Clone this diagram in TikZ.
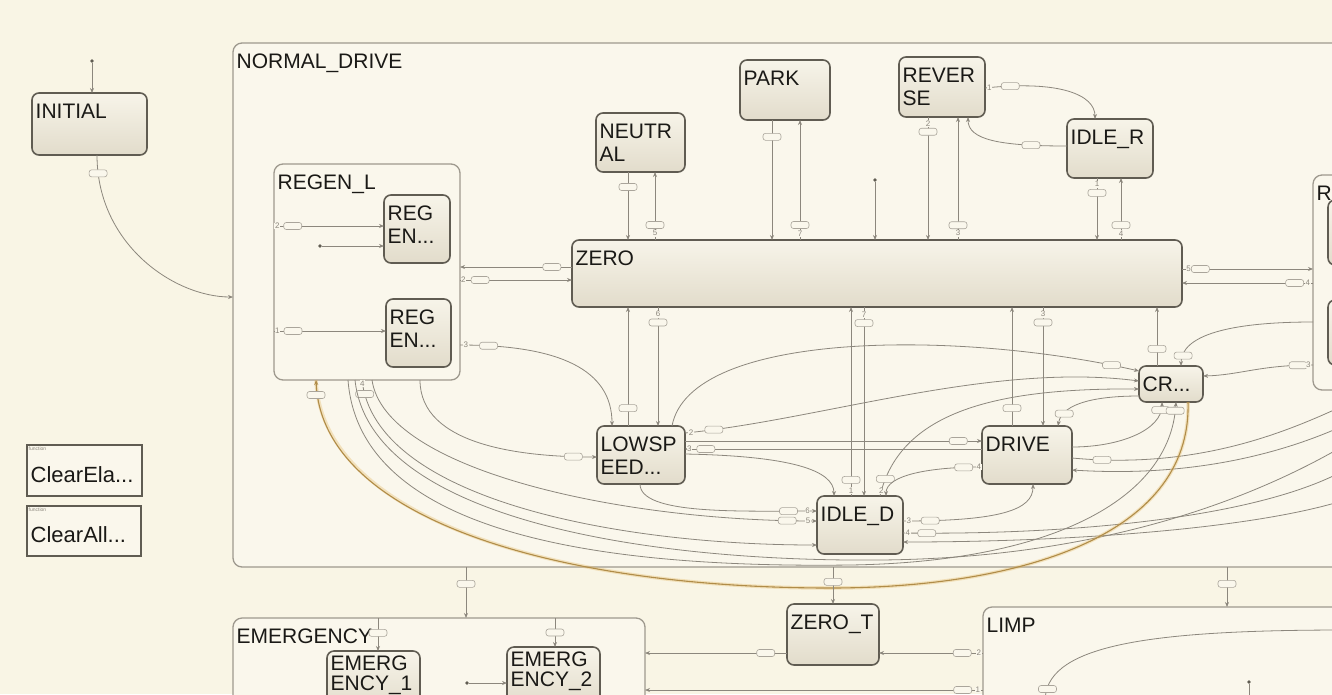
\documentclass[tikz,border=0pt]{standalone}
\usepackage{fontspec}
\setmainfont{Liberation Sans}
\usetikzlibrary{arrows.meta,calc}
\definecolor{bg}{RGB}{249,245,229}
\definecolor{cfill}{RGB}{250,247,236}
\definecolor{stopc}{RGB}{247,244,233}
\definecolor{sbot}{RGB}{226,220,203}
\definecolor{sborder}{RGB}{96,92,82}
\definecolor{cborder}{RGB}{158,153,142}
\definecolor{trc}{RGB}{140,135,125}
\definecolor{lblc}{RGB}{170,165,155}
\definecolor{glow}{RGB}{228,184,100}
\definecolor{orline}{RGB}{176,140,72}
\definecolor{txtc}{RGB}{26,25,22}
\tikzset{
 stbox/.style={draw=sborder, line width=1.6pt, rounded corners=7pt, top color=stopc, bottom color=sbot, anchor=north west, inner sep=0pt, outer sep=0pt},
 cont/.style={draw=cborder, line width=1.3pt, rounded corners=9pt, fill=cfill, anchor=north west, inner sep=0pt, outer sep=0pt},
 fbox/.style={draw=sborder, line width=1.3pt, fill=cfill, anchor=north west, inner sep=0pt, outer sep=0pt},
 lab/.style={anchor=north west, inner xsep=3.5pt, inner ysep=10.5pt, align=left, text=txtc, font=\fontsize{21}{23.5}\selectfont},
 emlab/.style={lab, inner ysep=4.5pt, font=\fontsize{21}{20}\selectfont},
 tr/.style={draw=trc, line width=0.8pt, -{Stealth[length=5pt,width=4pt]}},
 lbl/.style={draw=lblc, fill=cfill, rounded corners=2.5pt, minimum width=18pt, minimum height=7pt, inner sep=0pt, line width=0.6pt},
 num/.style={font=\fontsize{8}{8}\selectfont, text=trc, inner sep=0.6pt, fill=cfill},
 dot/.style={circle, fill=sborder, inner sep=0pt, minimum size=3.6pt},
 tinyt/.style={font=\fontsize{5}{5}\selectfont, text=trc, anchor=north west, inner sep=1.5pt},
}
\begin{document}
\begin{tikzpicture}[x=1pt,y=-1pt]
\useasboundingbox (0,0) rectangle (1332,694);
\fill[bg] (0,0) rectangle (1332,694);

% ---------------- containers ----------------
\node[cont, minimum width=1200pt, minimum height=524pt, label={[lab]north west:NORMAL\_DRIVE}] (nd) at (233,43) {};
\node[cont, minimum width=412pt, minimum height=120pt, label={[lab]north west:EMERGENCY}] (emergency) at (233,618) {};
\node[cont, minimum width=420pt, minimum height=120pt, label={[lab]north west:LIMP}] (limp) at (983,607) {};
\node[cont, minimum width=186pt, minimum height=216pt, label={[lab]north west:REGEN\_L}] (regenl) at (274,164) {};
\node[cont, minimum width=80pt, minimum height=215pt, label={[lab]north west:R}] (rcont) at (1313,175) {};

% ---------------- states ----------------
\node[stbox, minimum width=115pt, minimum height=62pt, label={[lab]north west:INITIAL}] (initial) at (32,93) {};
\node[stbox, minimum width=66pt, minimum height=68pt, label={[lab]north west:{REG\\EN...}}] (regA) at (384,195) {};
\node[stbox, minimum width=65pt, minimum height=68pt, label={[lab]north west:{REG\\EN...}}] (regB) at (386,299) {};
\node[stbox, minimum width=610pt, minimum height=67pt, label={[lab]north west:ZERO}] (zero) at (572,240) {};
\node[stbox, minimum width=89pt, minimum height=59pt, label={[lab]north west:{NEUTR\\AL}}] (neutral) at (596,113) {};
\node[stbox, minimum width=90pt, minimum height=60pt, label={[lab]north west:PARK}] (park) at (740,60) {};
\node[stbox, minimum width=86pt, minimum height=60pt, label={[lab]north west:{REVER\\SE}}] (reverse) at (899,57) {};
\node[stbox, minimum width=86pt, minimum height=59pt, label={[lab]north west:IDLE\_R}] (idler) at (1067,119) {};
\node[stbox, minimum width=88pt, minimum height=58pt, label={[lab]north west:{LOWSP\\EED...}}] (lowspeed) at (597,426) {};
\node[stbox, minimum width=90pt, minimum height=58pt, label={[lab]north west:DRIVE}] (drive) at (982,426) {};
\node[stbox, minimum width=86pt, minimum height=58pt, label={[lab]north west:IDLE\_D}] (idled) at (817,496) {};
\node[stbox, minimum width=64pt, minimum height=36pt, label={[lab]north west:CR...}] (cr) at (1139,366) {};
\node[stbox, minimum width=40pt, minimum height=65pt] (rA) at (1328,200) {};
\node[stbox, minimum width=40pt, minimum height=65pt] (rB) at (1328,300) {};
\node[stbox, minimum width=92pt, minimum height=61pt, label={[lab]north west:ZERO\_T}] (zerot) at (787,604) {};
\node[stbox, minimum width=93pt, minimum height=60pt, label={[emlab]north west:{EMERG\\ENCY\_1}}] (em1) at (327,651) {};
\node[stbox, minimum width=93pt, minimum height=60pt, label={[emlab]north west:{EMERG\\ENCY\_2}}] (em2) at (507,647) {};

% ---------------- functions ----------------
\node[fbox, minimum width=115pt, minimum height=51pt] (f1) at (27,445) {};
\node[tinyt] (f1k) at (f1.north west) {function};
\node[lab, anchor=west, inner ysep=2pt, font=\fontsize{22}{24}\selectfont] (f1t) at ([yshift=-4pt]f1.west) {ClearEla...};
\node[fbox, minimum width=114pt, minimum height=50pt] (f2) at (27,506) {};
\node[tinyt] (f2k) at (f2.north west) {function};
\node[lab, anchor=west, inner ysep=2pt, font=\fontsize{22}{24}\selectfont] (f2t) at ([yshift=-4pt]f2.west) {ClearAll...};

% ---------------- default transitions ----------------
\node[dot] (d0) at (92,61) {};
\draw[tr] (d0) -- (initial.north -| d0);
\node[dot] (d1) at (320,246) {};
\draw[tr] (d1) -- (regA.west |- d1);
\node[dot] (d2) at (875,180) {};
\draw[tr] (d2) -- (zero.north -| d2);
\node[dot] (d3) at (467,683) {};
\draw[tr] (d3) -- (em2.west |- d3);
\node[dot] (d4) at (1249,682) {};
\coordinate (d4e) at (1249,700);
\draw[trc, line width=0.8pt] (d4) -- (d4e);

% ---------------- transitions ----------------
\draw[tr] (initial.south -| 97,0) .. controls (97,245) and (175,297) .. (nd.west |- 0,297) node[lbl,pos=0.07]{};

\draw[tr] (regenl.west |- 0,226) -- node[lbl,pos=0.17]{} node[num,pos=0.03]{2} (regA.west |- 0,226);
\draw[tr] (regenl.west |- 0,331) -- node[lbl,pos=0.17]{} node[num,pos=0.03]{1} (regB.west |- 0,331);

\draw[tr] (zero.west |- 0,267) -- node[lbl,pos=0.18]{} (regenl.east |- 0,267);
\draw[tr] (regenl.east |- 0,280) -- node[lbl,pos=0.18]{} node[num,pos=0.03]{2} (zero.west |- 0,280);
\draw[tr] (regenl.east |- 0,345) .. controls (560,345) and (612,370) .. (lowspeed.north -| 612,0) node[lbl,pos=0.1]{} node[num,pos=0.02]{3};
\draw[tr] (regenl.south -| 420,0) .. controls (420,445) and (520,457) .. (lowspeed.west |- 0,457) node[lbl,pos=0.9]{};

% top states <-> ZERO
\draw[tr] (neutral.south -| 628,0) -- node[lbl,pos=0.22]{} (zero.north -| 628,0);
\draw[tr] (zero.north -| 655,0) -- node[lbl,pos=0.22]{} node[num,pos=0.1]{5} (neutral.south -| 655,0);
\draw[tr] (park.south -| 772,0) -- node[lbl,pos=0.14]{} (zero.north -| 772,0);
\draw[tr] (zero.north -| 800,0) -- node[lbl,pos=0.125]{} node[num,pos=0.055]{7} (park.south -| 800,0);
\draw[tr] (reverse.south -| 928,0) -- node[lbl,pos=0.12]{} node[num,pos=0.055]{2} (zero.north -| 928,0);
\draw[tr] (zero.north -| 958,0) -- node[lbl,pos=0.12]{} node[num,pos=0.055]{3} (reverse.south -| 958,0);
\draw[tr] (idler.south -| 1097,0) -- node[lbl,pos=0.24]{} node[num,pos=0.1]{1} (zero.north -| 1097,0);
\draw[tr] (zero.north -| 1121,0) -- node[lbl,pos=0.24]{} node[num,pos=0.1]{4} (idler.south -| 1121,0);

% REVERSE <-> IDLE_R
\draw[tr] (reverse.east |- 0,88) .. controls (1060,80) and (1095,95) .. (idler.north -| 1095,0) node[lbl,pos=0.12]{} node[num,pos=0.02]{1};
\draw[tr] (idler.west |- 0,146) .. controls (1000,146) and (968,140) .. (reverse.south -| 968,0) node[lbl,pos=0.2]{};

% ZERO <-> R
\draw[tr] (zero.east |- 0,269) -- node[lbl,pos=0.14]{} node[num,pos=0.05]{5} (rcont.west |- 0,269);
\draw[tr] (rcont.west |- 0,283) -- node[lbl,pos=0.14]{} node[num,pos=0.04]{4} (zero.east |- 0,283);

% ZERO bottom
\draw[tr] (lowspeed.north -| 628,0) -- node[lbl,pos=0.15]{} (zero.south -| 628,0);
\draw[tr] (zero.south -| 658,0) -- node[lbl,pos=0.13]{} node[num,pos=0.06]{6} (lowspeed.north -| 658,0);
\draw[tr] (idled.north -| 851,0) -- node[lbl,pos=0.085]{} node[num,pos=0.03]{1} (zero.south -| 851,0);
\draw[tr] (zero.south -| 864,0) -- node[lbl,pos=0.085]{} node[num,pos=0.04]{7} (idled.north -| 864,0);
\draw[tr] (drive.north -| 1012,0) -- node[lbl,pos=0.15]{} (zero.south -| 1012,0);
\draw[tr] (zero.south -| 1043,0) -- node[lbl,pos=0.13]{} node[num,pos=0.06]{3} (drive.north -| 1043,0);
\draw[tr] (cr.north -| 1157,0) -- node[lbl,pos=0.29]{} (zero.south -| 1157,0);
\draw[tr] (rcont.west |- 0,322) .. controls (1230,322) and (1181,335) .. (cr.north -| 1181,0) node[lbl,pos=0.88]{};

% LOWSPEED <-> DRIVE
\draw[tr] (lowspeed.east |- 0,441) -- node[lbl,pos=0.92]{} (drive.west |- 0,441);
\draw[tr] (drive.west |- 0,449) -- node[lbl,pos=0.93]{} node[num,pos=0.985]{3} (lowspeed.east |- 0,449);
\draw[tr] (lowspeed.east |- 0,433) .. controls (820,420) and (990,362) .. (cr.west |- 0,381) node[lbl,pos=0.07]{} node[num,pos=0.015]{2};
\draw[tr] (lowspeed.east |- 0,454) .. controls (790,456) and (834,470) .. (idled.north -| 834,0);
\draw[tr] (lowspeed.north -| 672,0) .. controls (690,330) and (960,330) .. (cr.west |- 0,371) node[lbl,pos=0.95]{};
\draw[tr] (idled.north -| 880,0) .. controls (900,410) and (1000,388) .. (cr.west |- 0,389) node[lbl,pos=0.07]{} node[num,pos=0.02]{2};
\draw[tr] (cr.west |- 0,396) .. controls (1100,396) and (1062,402) .. (drive.north -| 1058,0) node[lbl,pos=0.8]{};
\draw[tr] (drive.east |- 0,447) .. controls (1120,447) and (1162,430) .. (cr.south -| 1162,0) node[lbl,pos=0.9]{};
\draw[tr] (drive.west |- 0,467) .. controls (930,467) and (886,475) .. (idled.north -| 886,0) node[lbl,pos=0.12]{} node[num,pos=0.02]{4};
\draw[tr] (lowspeed.south -| 640,0) .. controls (640,515) and (740,511) .. (idled.west |- 0,511) node[lbl,pos=0.88]{} node[num,pos=0.96]{6};

% IDLE_D right side
\draw[tr] (idled.east |- 0,521) .. controls (1000,521) and (1033,510) .. (drive.south -| 1033,0) node[lbl,pos=0.1]{} node[num,pos=0.02]{3};
\coordinate (e1) at (1345,470);
\coordinate (e2) at (1345,500);
\coordinate (e3) at (1345,405);
\coordinate (e4) at (1345,425);
\coordinate (e5) at (1345,445);
\draw[tr] (idled.east |- 0,533) .. controls (1060,535) and (1250,520) .. (e1) node[lbl,pos=0.05]{} node[num,pos=0.01]{4};
\draw[tr] (e2) .. controls (1250,530) and (1060,542) .. (idled.east |- 0,542);
\draw[tr] (drive.east |- 0,458) .. controls (1200,470) and (1290,430) .. (e3) node[lbl,pos=0.08]{};
\draw[tr] (e4) .. controls (1290,450) and (1200,478) .. (drive.east |- 0,470);
\draw[tr] (rcont.west |- 0,365) .. controls (1260,365) and (1240,375) .. (cr.east |- 0,376) node[lbl,pos=0.1]{} node[num,pos=0.03]{3};

% long curves from REGEN_L
\draw[tr] (regenl.south -| 372,0) .. controls (385,470) and (620,521) .. (idled.west |- 0,521) node[lbl,pos=0.95]{} node[num,pos=0.985]{5};
\draw[tr] (regenl.south -| 362,0) .. controls (375,500) and (620,545) .. (idled.west |- 0,545) node[lbl,pos=0.04]{} node[num,pos=0.01]{4};
\draw[tr] (regenl.south -| 355,0) .. controls (370,520) and (650,562) .. (880,560) .. controls (1100,558) and (1250,500) .. (e5);
\draw[tr] (regenl.south -| 348,0) .. controls (360,540) and (620,568) .. (850,565) .. controls (1050,562) and (1170,500) .. (cr.south -| 1176,0) node[lbl,pos=0.97]{};

% highlighted (active) transition
\draw[draw=orline, line width=1.1pt, -{Stealth[length=5pt,width=4pt]}, preaction={draw=glow, line width=3.5pt, draw opacity=0.35, arrows=-}]
  (cr.south -| 1188,0) .. controls (1192,540) and (1010,588) .. (830,588) .. controls (560,588) and (322,520) .. (regenl.south -| 316,0);
\node[lbl] (hl) at (316,395) {};

% lower part
\draw[tr] (nd.south -| 466,0) -- node[lbl,pos=0.33]{} (emergency.north -| 466,0);
\draw[tr] (nd.south -| 833,0) -- node[lbl,pos=0.4]{} (zerot.north -| 833,0);
\draw[tr] (nd.south -| 1227,0) -- node[lbl,pos=0.42]{} (limp.north -| 1227,0);
\draw[tr] (zerot.west |- 0,653) -- node[lbl,pos=0.15]{} (emergency.east |- 0,653);
\draw[tr] (limp.west |- 0,653) -- node[lbl,pos=0.2]{} node[num,pos=0.04]{2} (zerot.east |- 0,653);
\draw[tr] (limp.west |- 0,690) -- node[lbl,pos=0.06]{} node[num,pos=0.015]{1} (emergency.east |- 0,690);
\draw[tr] (emergency.north -| 378,0) -- node[lbl,pos=0.45]{} (em1.north -| 378,0);
\draw[tr] (emergency.north -| 555,0) -- node[lbl,pos=0.5]{} (em2.north -| 555,0);
\coordinate (lp) at (1045,700);
\coordinate (lq) at (1345,630);
\draw[tr] (lq) .. controls (1150,630) and (1050,645) .. (lp) node[lbl,pos=0.93]{};
\end{tikzpicture}
\end{document}
